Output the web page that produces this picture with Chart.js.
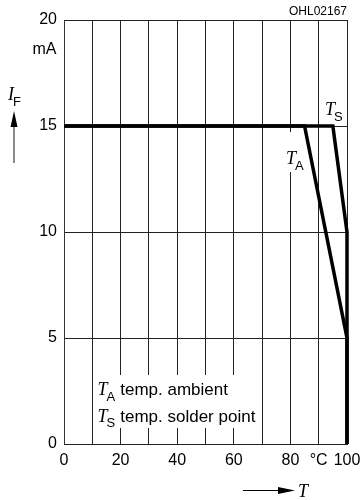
<!DOCTYPE html>
<html>
<head>
<meta charset="utf-8">
<script src="https://cdn.jsdelivr.net/npm/chart.js@4.4.0/dist/chart.umd.min.js"></script>
<style>
  html, body { margin: 0; padding: 0; background: #fff; }
  #wrap { width: 361px; height: 500px; }
</style>
</head>
<body>
<div id="wrap"><canvas id="c" width="361" height="500"></canvas></div>
<script>
// ---- data ----
const ambientT = [0, 85, 100, 100];
const ambientI = [15, 15, 5, 0];
const solderT  = [0, 95, 100, 100];
const solderI  = [15, 15, 10, 0];
const xTickLabels = ['0', '', '20', '', '40', '', '60', '', '80', '°C', '100'];
const yTickValues = [0, 5, 10, 15, 20];
const seriesNames = ['T_A', 'T_S'];

const toPts = (xs, ys) => xs.map((x, i) => ({ x: x, y: ys[i] }));

const SANS = "'Liberation Sans', Arial, Helvetica, sans-serif";
const SERIF = "'Liberation Serif', 'Times New Roman', serif";

function subLabel(ctx, x, base, main, sub) {
  ctx.font = "italic 18px " + SERIF;
  ctx.textAlign = 'left';
  ctx.textBaseline = 'alphabetic';
  ctx.fillText(main, x, base);
  const w = ctx.measureText(main).width;
  ctx.font = "13px " + SANS;
  ctx.fillText(sub, x + w - 1, base + 5.5);
  return x + w - 1 + ctx.measureText(sub).width;
}

const annot = {
  id: 'annot',
  beforeDatasetsDraw(chart) {
    const ctx = chart.ctx;
    const xs = chart.scales.x;
    ctx.save();
    ctx.fillStyle = '#fff';
    // legend box background
    ctx.fillRect(xs.getPixelForValue(11), 375, xs.getPixelForValue(67) - xs.getPixelForValue(11), 53);
    // T_A label background
    ctx.fillRect(283, 132, 22, 40);
    ctx.restore();
  },
  afterDraw(chart) {
    const ctx = chart.ctx;
    ctx.save();
    ctx.fillStyle = '#000';
    // code id
    ctx.font = "12px " + SANS;
    ctx.textAlign = 'right';
    ctx.textBaseline = 'alphabetic';
    ctx.fillText('OHL02167', chart.chartArea.right, 15);
    // unit
    ctx.font = "16px " + SANS;
    ctx.fillText('mA', 56.5, 54);
    // I_F
    subLabel(ctx, 8, 100, 'I', 'F');
    // up arrow
    ctx.strokeStyle = '#666';
    ctx.lineWidth = 1.5;
    ctx.beginPath(); ctx.moveTo(14, 163); ctx.lineTo(14, 124); ctx.stroke();
    ctx.beginPath(); ctx.moveTo(14, 111); ctx.lineTo(10.5, 127); ctx.lineTo(17.5, 127); ctx.closePath(); ctx.fill();
    // bottom arrow + T
    ctx.strokeStyle = '#000';
    ctx.lineWidth = 1.2;
    ctx.beginPath(); ctx.moveTo(243, 490.5); ctx.lineTo(282, 490.5); ctx.stroke();
    ctx.beginPath(); ctx.moveTo(295, 490.5); ctx.lineTo(278, 487); ctx.lineTo(278, 494); ctx.closePath(); ctx.fill();
    ctx.font = "italic 18px " + SERIF;
    ctx.textAlign = 'left';
    ctx.fillText('T', 298, 497);
    // curve labels
    subLabel(ctx, 325, 115, 'T', 'S');
    subLabel(ctx, 286, 164, 'T', 'A');
    // legend
    subLabel(ctx, 97.5, 395, 'T', 'A');
    ctx.font = "17px " + SANS;
    ctx.textAlign = 'left';
    ctx.fillText(' temp. ambient', 115.5, 395);
    subLabel(ctx, 97.5, 421.5, 'T', 'S');
    ctx.font = "17px " + SANS;
    ctx.fillText(' temp. solder point', 115.5, 421.5);
    ctx.restore();
  }
};

new Chart(document.getElementById('c'), {
  type: 'line',
  data: {
    datasets: [
      { label: seriesNames[0], data: toPts(ambientT, ambientI), borderColor: '#000', borderWidth: 3.5, pointRadius: 0, tension: 0, fill: false, clip: false, borderJoinStyle: 'miter', borderCapStyle: 'butt' },
      { label: seriesNames[1], data: toPts(solderT, solderI), borderColor: '#000', borderWidth: 3.5, pointRadius: 0, tension: 0, fill: false, clip: false, borderJoinStyle: 'miter', borderCapStyle: 'butt' }
    ]
  },
  options: {
    responsive: false,
    animation: false,
    events: [],
    layout: { padding: { top: 20, right: 14, left: 0, bottom: 0 } },
    plugins: { legend: { display: false }, tooltip: { enabled: false } },
    scales: {
      x: {
        type: 'linear', min: 0, max: 100,
        afterFit(s) { s.height = 56; s.paddingLeft = 0; s.paddingRight = 0; },
        border: { display: true, color: '#222', width: 1 },
        grid: { color: '#222', lineWidth: 1, drawTicks: false },
        ticks: {
          stepSize: 10, autoSkip: false, maxRotation: 0, padding: 7,
          color: '#000', font: { family: SANS, size: 16 },
          callback: (v, i) => xTickLabels[i]
        }
      },
      y: {
        type: 'linear', min: 0, max: 20,
        afterFit(s) { s.width = 64; s.paddingTop = 0; s.paddingBottom = 0; },
        afterBuildTicks(s) { s.ticks = yTickValues.map(v => ({ value: v })); },
        border: { display: true, color: '#333', width: 1 },
        grid: { color: '#222', lineWidth: 1, drawTicks: false },
        ticks: {
          padding: 7, color: '#000', font: { family: SANS, size: 16 },
          callback: v => String(v)
        }
      }
    }
  },
  plugins: [annot]
});
</script>
</body>
</html>
